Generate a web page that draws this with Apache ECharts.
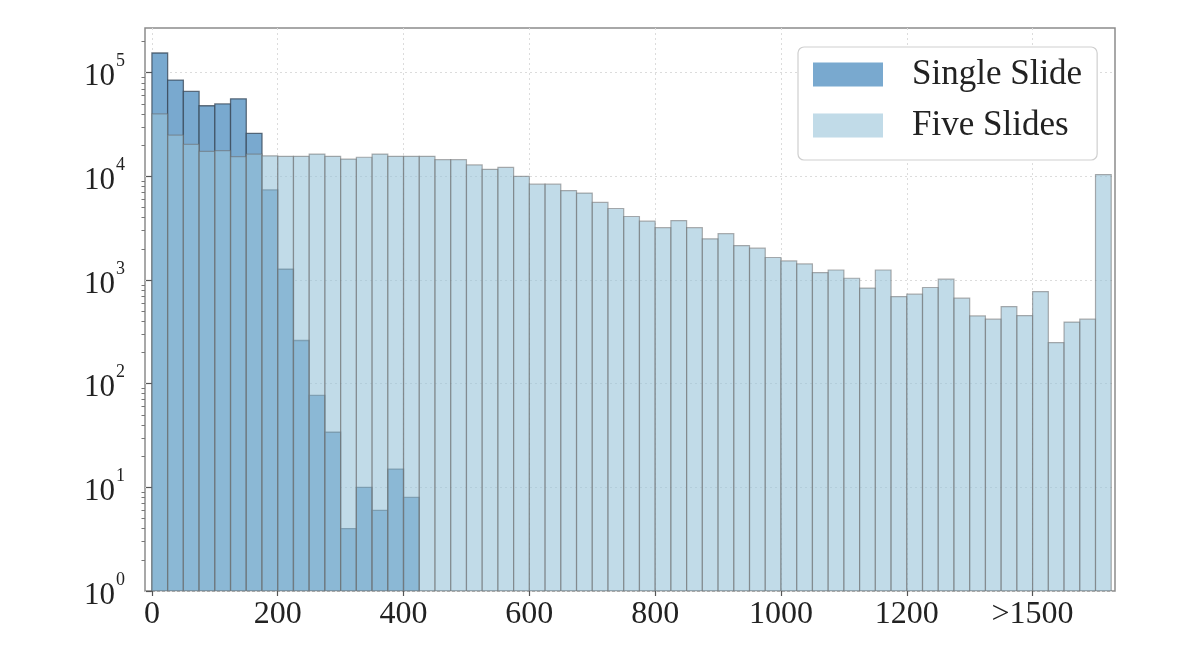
<!DOCTYPE html>
<html>
<head>
<meta charset="utf-8">
<title>Histogram</title>
<script src="https://cdn.jsdelivr.net/npm/echarts@6/dist/echarts.min.js"></script>
<style>
  html, body { margin: 0; padding: 0; background: #fff; }
  #chart { width: 1200px; height: 670px; }
</style>
</head>
<body>
<div id="chart"></div>
<script>
/* -------------------------------------------------------------------------- */
/* Histogram data: bins of 25, last bin holds everything above 1500 */
var binWidth = 25;
var singleSlide = [155000, 85000, 66000, 48000, 50000, 56000, 26000, 7400, 1270,
  261, 77, 34, 4, 10, 6, 15, 8];
var fiveSlides = [40000, 25000, 20400, 17400, 17700, 15500, 16400, 15800, 15600,
  15600, 16400, 15600, 14700, 15300, 16400, 15600, 15600, 15600, 14500, 14500,
  12900, 11700, 12200, 10000, 8400, 8400, 7300, 6900, 5600, 4900, 4100, 3700,
  3200, 3750, 3200, 2500, 2800, 2150, 2030, 1650, 1530, 1430, 1180, 1250, 1040,
  836, 1250, 693, 731, 847, 1020, 668, 451, 419, 555, 454, 774, 249, 393, 419,
  10400];
var xTicks = [0, 200, 400, 600, 800, 1000, 1200, 1400];
var xTickLabels = ['0', '200', '400', '600', '800', '1000', '1200', '>1500'];
var yMajor = [1, 10, 100, 1000, 10000, 100000];
var yMinor = [];
yMajor.forEach(function (p) {
  for (var m = 2; m <= 9; m++) {
    if (p * m < 270000) yMinor.push(p * m);
  }
});

var FONT = '"Liberation Serif", "DejaVu Serif", serif';

var toBins = function toBins(counts) {
  return counts.map(function (v, i) {
    return [i * binWidth, (i + 1) * binWidth, v];
  });
};

var renderBin = function renderBin(strokeColor, lineWidth) {
  return function (params, api) {
    var topLeft = api.coord([api.value(0), api.value(2)]);
    var bottomRight = api.coord([api.value(1), 1]);
    return {
      type: 'rect',
      shape: {
        x: topLeft[0],
        y: topLeft[1],
        width: bottomRight[0] - topLeft[0],
        height: bottomRight[1] - topLeft[1]
      },
      style: {
        fill: api.visual('color'),
        stroke: strokeColor,
        lineWidth: lineWidth
      }
    };
  };
};

var chart = echarts.init(document.getElementById('chart'), null, { renderer: 'canvas' });

var option = {
  animation: false,
  backgroundColor: '#fff',
  textStyle: { fontFamily: FONT },
  grid: {
    left: 145,
    right: 85,
    top: 28,
    bottom: 79,
    show: true,
    borderColor: '#8c8c8c',
    borderWidth: 1.5,
    backgroundColor: 'transparent'
  },
  legend: {
    orient: 'vertical',
    left: 798,
    top: 47,
    padding: [10, 15, 17, 15],
    itemWidth: 70,
    itemHeight: 24,
    itemGap: 16,
    backgroundColor: '#fff',
    borderColor: '#cfcfcf',
    borderWidth: 1.2,
    borderRadius: 6,
    icon: 'rect',
    itemStyle: { borderWidth: 0 },
    textStyle: {
      fontFamily: FONT,
      fontSize: 35,
      lineHeight: 34,
      color: '#222',
      padding: [0, 0, 0, 24]
    },
    data: ['Single Slide', 'Five Slides']
  },
  xAxis: {
    type: 'value',
    min: -11,
    max: 1531,
    splitNumber: 8,
    axisLine: { show: false },
    axisTick: {
      show: true,
      customValues: xTicks,
      length: 5,
      lineStyle: { color: '#555', width: 1.2 }
    },
    axisLabel: {
      customValues: xTicks,
      margin: 8,
      fontFamily: FONT,
      fontSize: 32,
      color: '#222',
      formatter: function (v) {
        var i = xTicks.indexOf(v);
        return i >= 0 ? xTickLabels[i] : '';
      }
    },
    splitLine: {
      show: true,
      lineStyle: { color: '#dcdcdc', type: [2, 3], width: 1 }
    }
  },
  yAxis: [{
    type: 'log',
    logBase: 10,
    min: 1,
    max: 270000,
    axisLine: { show: false },
    axisTick: {
      show: true,
      customValues: yMajor,
      length: 6,
      lineStyle: { color: '#555', width: 1.2 }
    },
    axisLabel: {
      customValues: yMajor,
      margin: 20,
      color: '#222',
      formatter: function (v) {
        return '{b|10}{s|' + Math.round(Math.log10(v)) + '}';
      },
      rich: {
        b: { fontFamily: FONT, fontSize: 31, color: '#222', verticalAlign: 'bottom' },
        s: {
          fontFamily: FONT, fontSize: 18, color: '#222', verticalAlign: 'bottom',
          padding: [0, 0, 22, 1]
        }
      }
    },
    splitLine: {
      show: true,
      lineStyle: { color: '#dcdcdc', type: [2, 3], width: 1 }
    }
  }, {
    // minor log ticks
    type: 'log',
    logBase: 10,
    min: 1,
    max: 270000,
    position: 'left',
    axisLine: { show: false },
    axisTick: {
      show: true,
      customValues: yMinor,
      length: 3.5,
      lineStyle: { color: '#777', width: 1 }
    },
    axisLabel: { show: false },
    splitLine: { show: false }
  }],
  series: [{
    name: 'Single Slide',
    type: 'custom',
    clip: true,
    itemStyle: { color: '#79a9cf' },
    encode: { x: [0, 1], y: 2 },
    renderItem: renderBin('rgba(55,70,85,0.75)', 1.3),
    data: toBins(singleSlide)
  }, {
    name: 'Five Slides',
    type: 'custom',
    clip: true,
    itemStyle: { color: 'rgba(152,195,217,0.6)' },
    encode: { x: [0, 1], y: 2 },
    renderItem: renderBin('rgba(110,110,110,0.55)', 1.2),
    data: toBins(fiveSlides)
  }]
};

chart.setOption(option);
</script>
</body>
</html>
